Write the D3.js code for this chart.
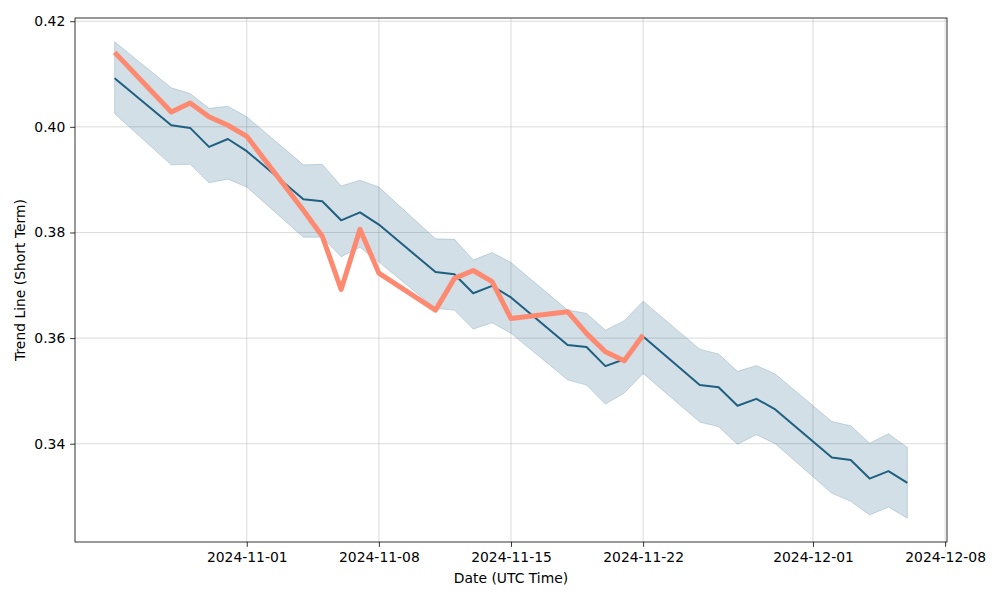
<!DOCTYPE html>
<html>
<head>
<meta charset="utf-8">
<script src="https://cdn.jsdelivr.net/npm/d3@7"></script>
<style>
  html, body { margin: 0; padding: 0; background: #fff; }
  svg { display: block; font-family: "DejaVu Sans", sans-serif; }
</style>
</head>
<body>
<svg id="chart" width="1000" height="600"></svg>
<script>
const dates = ["2024-10-25","2024-10-28","2024-10-29","2024-10-30","2024-10-31","2024-11-01",
  "2024-11-04","2024-11-05","2024-11-06","2024-11-07","2024-11-08",
  "2024-11-11","2024-11-12","2024-11-13","2024-11-14","2024-11-15",
  "2024-11-18","2024-11-19","2024-11-20","2024-11-21","2024-11-22",
  "2024-11-25","2024-11-26","2024-11-27","2024-11-28","2024-11-29",
  "2024-12-02","2024-12-03","2024-12-04","2024-12-05","2024-12-06"];
const trend = [0.4092,0.4003,0.3998,0.3962,0.3977,0.3954,
  0.3863,0.3859,0.3823,0.3838,0.3815,
  0.3725,0.3721,0.3685,0.3699,0.3677,
  0.3587,0.3583,0.3547,0.3560,0.3603,
  0.3511,0.3507,0.3472,0.3485,0.3465,
  0.3374,0.3369,0.3334,0.3348,0.3326];
const upper = [0.4161,0.4074,0.4063,0.4035,0.4039,0.4019,
  0.3928,0.3929,0.3888,0.3899,0.3886,
  0.3788,0.3787,0.3748,0.3762,0.3743,
  0.3653,0.3647,0.3615,0.3633,0.3670,
  0.3579,0.3570,0.3537,0.3548,0.3532,
  0.3442,0.3434,0.3401,0.3419,0.3393];
const lower = [0.4025,0.3928,0.3929,0.3894,0.3901,0.3886,
  0.3791,0.3791,0.3754,0.3772,0.3744,
  0.3656,0.3653,0.3617,0.3629,0.3609,
  0.3521,0.3511,0.3475,0.3496,0.3533,
  0.3441,0.3432,0.3399,0.3417,0.3400,
  0.3306,0.3291,0.3265,0.3280,0.3259];
const actual = [0.4141,0.4028,0.4045,0.4019,0.4003,0.3982,
  0.3842,0.3793,0.3692,0.3806,0.3723,
  0.3653,0.3713,0.3728,0.3707,0.3637,
  0.3650,0.3609,0.3574,0.3557,0.3606];
const xTickLabels = ["2024-11-01","2024-11-08","2024-11-15","2024-11-22","2024-12-01","2024-12-08"];
const yTickValues = [0.34, 0.36, 0.38, 0.40, 0.42];
const xAxisTitle = "Date (UTC Time)";
const yAxisTitle = "Trend Line (Short Term)";

const W = 1000, H = 600;
const m = {left: 75, right: 53, top: 18, bottom: 58};
const iw = W - m.left - m.right, ih = H - m.top - m.bottom;
const parse = d3.utcParse("%Y-%m-%d");
const t = dates.map(parse);

const tMin = d3.min(t), tMax = d3.max(t);
const tPad = (tMax - tMin) * 0.05;
const x = d3.scaleUtc().domain([new Date(+tMin - tPad), new Date(+tMax + tPad)]).range([0, iw]);
const allY = upper.concat(lower, trend, actual);
const yMin = d3.min(allY), yMax = d3.max(allY), yPad = (yMax - yMin) * 0.05;
const y = d3.scaleLinear().domain([yMin - yPad, yMax + yPad]).range([ih, 0]);

const svg = d3.select("#chart");
const g = svg.append("g").attr("transform", `translate(${m.left},${m.top})`);

const xTicks = xTickLabels.map(parse);
// grid
g.append("g").selectAll("line").data(xTicks).join("line")
  .attr("x1", d => x(d)).attr("x2", d => x(d)).attr("y1", 0).attr("y2", ih)
  .attr("stroke", "#b0b0b0").attr("stroke-opacity", 0.45).attr("stroke-width", 1);
g.append("g").selectAll("line").data(yTickValues).join("line")
  .attr("x1", 0).attr("x2", iw).attr("y1", d => y(d)).attr("y2", d => y(d))
  .attr("stroke", "#b0b0b0").attr("stroke-opacity", 0.45).attr("stroke-width", 1);

const blue = "#1f5f80";
const bandData = t.map((d, i) => ({d, lo: lower[i], hi: upper[i]}));
g.append("path").datum(bandData)
  .attr("d", d3.area().x(p => x(p.d)).y0(p => y(p.lo)).y1(p => y(p.hi)))
  .attr("fill", blue).attr("fill-opacity", 0.2)
  .attr("stroke", blue).attr("stroke-opacity", 0.2).attr("stroke-width", 1);

g.append("path").datum(t.map((d, i) => ({d, v: trend[i]})))
  .attr("d", d3.line().x(p => x(p.d)).y(p => y(p.v)))
  .attr("fill", "none").attr("stroke", blue).attr("stroke-width", 2)
  .attr("stroke-linejoin", "round");

g.append("path").datum(actual.map((v, i) => ({d: t[i], v})))
  .attr("d", d3.line().x(p => x(p.d)).y(p => y(p.v)))
  .attr("fill", "none").attr("stroke", "#fd8a70").attr("stroke-width", 5)
  .attr("stroke-linejoin", "round");

// axes
const xAxis = g.append("g").attr("transform", `translate(0,${ih})`)
  .call(d3.axisBottom(x).tickValues(xTicks).tickFormat(d3.utcFormat("%Y-%m-%d"))
    .tickSize(4.86).tickSizeOuter(0).tickPadding(4.86));
const yAxis = g.append("g")
  .call(d3.axisLeft(y).tickValues(yTickValues).tickFormat(d3.format(".2f"))
    .tickSize(4.86).tickSizeOuter(0).tickPadding(4.86));
[xAxis, yAxis].forEach(a => {
  a.select(".domain").remove();
  a.selectAll("text").attr("font-size", 13.9).attr("fill", "#000").attr("font-family", "DejaVu Sans");
  a.selectAll("line").attr("stroke", "#000").attr("stroke-width", 0.8);
});
g.append("rect").attr("x", 0).attr("y", 0).attr("width", iw).attr("height", ih)
  .attr("fill", "none").attr("stroke", "#000").attr("stroke-width", 0.8);

svg.append("text").attr("x", m.left + iw / 2).attr("y", 583)
  .attr("text-anchor", "middle").attr("font-size", 13.9).text(xAxisTitle);
svg.append("text").attr("transform", `translate(25,${m.top + ih / 2}) rotate(-90)`)
  .attr("text-anchor", "middle").attr("font-size", 13.9).text(yAxisTitle);
</script>
</body>
</html>
